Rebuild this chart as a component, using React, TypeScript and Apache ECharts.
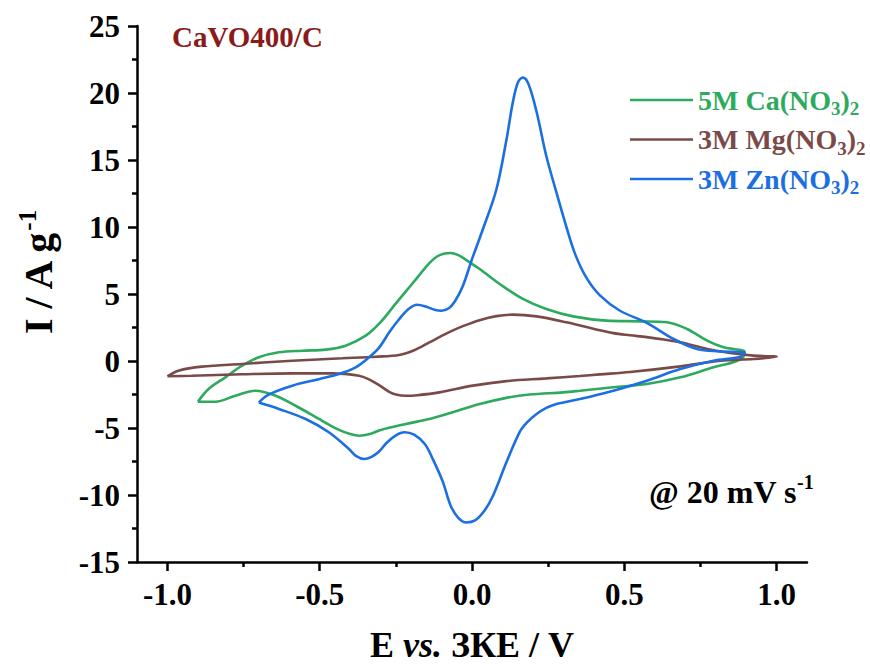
import { useEffect, useRef } from "react";
import * as echarts from "echarts";

// [E (V), I (A/g)] — each cyclic voltammogram as a closed loop
const caLoop: number[][] = [
  [-0.9, -3.04], [-0.865, -2.09], [-0.81, -1.22], [-0.755, -0.35], [-0.7, 0.28], [-0.634, 0.65],
  [-0.557, 0.77], [-0.48, 0.85], [-0.415, 1.14], [-0.349, 1.89], [-0.3, 2.9], [-0.25, 4.3],
  [-0.195, 5.8], [-0.14, 7.3], [-0.115, 7.8], [-0.09, 8.02], [-0.07, 8.06], [-0.045, 7.9],
  [-0.02, 7.55], [0.025, 6.87], [0.091, 5.75], [0.167, 4.63], [0.244, 3.88], [0.332, 3.33],
  [0.442, 3.01], [0.552, 2.96], [0.64, 2.89], [0.706, 2.39], [0.772, 1.52], [0.826, 1.02],
  [0.895, 0.7], [0.895, 0.5], [0.871, 0.02], [0.793, -0.47], [0.684, -1.22], [0.574, -1.72],
  [0.464, -1.96], [0.354, -2.22], [0.299, -2.34], [0.189, -2.5], [0.113, -2.75], [0.025, -3.21],
  [-0.063, -3.83], [-0.14, -4.33], [-0.217, -4.7], [-0.3, -5.15], [-0.335, -5.45], [-0.37, -5.58],
  [-0.4, -5.45], [-0.44, -5.1], [-0.492, -4.46], [-0.579, -3.34], [-0.645, -2.59], [-0.711, -2.22],
  [-0.777, -2.59], [-0.843, -3.04], [-0.9, -3.04],
];

const mgLoop: number[][] = [
  [-1.0, -1.14], [-0.964, -0.72], [-0.887, -0.42], [-0.755, -0.22], [-0.59, 0.02], [-0.426, 0.2],
  [-0.316, 0.32], [-0.239, 0.45], [-0.19, 0.8], [-0.14, 1.39], [-0.08, 2.1], [-0.03, 2.6],
  [0.025, 3.05], [0.08, 3.35], [0.134, 3.46], [0.212, 3.33], [0.31, 2.89], [0.42, 2.3],
  [0.464, 2.08], [0.519, 1.92], [0.574, 1.78], [0.63, 1.6], [0.684, 1.39], [0.772, 0.9],
  [0.848, 0.6], [0.925, 0.4], [1.0, 0.32], [0.925, 0.15], [0.815, 0.02], [0.684, -0.4],
  [0.519, -0.82], [0.42, -1.0], [0.354, -1.12], [0.244, -1.3], [0.113, -1.5], [0.003, -1.84],
  [-0.107, -2.34], [-0.18, -2.55], [-0.217, -2.59], [-0.25, -2.5], [-0.272, -2.3], [-0.305, -1.8],
  [-0.34, -1.35], [-0.371, -1.1], [-0.459, -0.92], [-0.59, -0.92], [-0.755, -0.99], [-0.92, -1.1],
  [-1.0, -1.14],
];

const znLoop: number[][] = [
  [-0.7, -3.1], [-0.668, -2.51], [-0.59, -1.84], [-0.5, -1.34], [-0.437, -0.97], [-0.382, -0.47],
  [-0.338, 0.28], [-0.305, 1.0], [-0.27, 2.2], [-0.24, 3.1], [-0.21, 3.85], [-0.18, 4.2],
  [-0.15, 4.05], [-0.12, 3.8], [-0.1, 3.75], [-0.075, 3.95], [-0.055, 4.5], [-0.03, 5.6],
  [0.0, 7.6], [0.036, 9.85], [0.08, 12.8], [0.113, 16.5], [0.134, 19.3], [0.151, 20.8],
  [0.167, 21.15], [0.185, 20.7], [0.212, 18.6], [0.244, 15.3], [0.277, 12.6], [0.31, 10.0],
  [0.34, 7.9], [0.376, 6.2], [0.42, 4.9], [0.486, 3.75], [0.574, 2.85], [0.662, 1.64],
  [0.739, 0.9], [0.815, 0.72], [0.895, 0.6], [0.88, 0.3], [0.793, 0.02], [0.684, -0.6],
  [0.574, -1.47], [0.464, -2.22], [0.4, -2.6], [0.354, -2.84], [0.3, -3.1], [0.277, -3.21],
  [0.244, -3.5], [0.212, -3.96], [0.18, -4.6], [0.156, -5.32], [0.113, -7.56], [0.069, -10.05],
  [0.04, -11.2], [0.01, -11.9], [-0.019, -12.05], [-0.045, -11.7], [-0.07, -10.8], [-0.096, -9.0],
  [-0.129, -7.3], [-0.155, -6.2], [-0.19, -5.5], [-0.222, -5.32], [-0.25, -5.55], [-0.28, -6.1],
  [-0.305, -6.75], [-0.33, -7.15], [-0.354, -7.31], [-0.38, -7.1], [-0.404, -6.57], [-0.47, -5.32],
  [-0.546, -4.33], [-0.634, -3.58], [-0.7, -3.1],
];

const seriesNames = ["5M Ca(NO3)2", "3M Mg(NO3)2", "3M Zn(NO3)2"];
const seriesColors = ["#2EAA5E", "#7A4A48", "#1C6FE0"];
const xMajorTicks = [-1.0, -0.5, 0.0, 0.5, 1.0];
const xMinorTicks = [-0.75, -0.25, 0.25, 0.75];
const yTicks = [-15, -10, -5, 0, 5, 10, 15, 20, 25];

const FF = '"Liberation Serif", "Times New Roman", serif';
const W = 870;
const H = 666;

export default function App() {
  const ref = useRef<HTMLDivElement>(null);
  useEffect(() => {
    if (!ref.current) return;
    const chart = echarts.init(ref.current, null, { renderer: "svg", width: W, height: H });
    const loops = [caLoop, mgLoop, znLoop];
    const axisColor = "#000";
    const legendRich = (color: string) => ({
      sub: { fontFamily: FF, fontWeight: "bold", fontSize: 19, color, verticalAlign: "bottom", lineHeight: 36 },
    });
    chart.setOption({
      animation: false,
      backgroundColor: "#fff",
      grid: { left: 137, right: 63, top: 26, bottom: 104, containLabel: false, outerBoundsMode: "none" },
      xAxis: [
        {
          type: "value",
          min: -1.1,
          max: 1.1,
          position: "bottom",
          axisLine: { show: true, onZero: false, lineStyle: { color: axisColor, width: 2.5 } },
          axisTick: { show: true, inside: false, length: 9, customValues: xMajorTicks, lineStyle: { color: axisColor, width: 2.5 } },
          axisLabel: {
            show: true,
            customValues: xMajorTicks,
            margin: 17,
            formatter: (v: number) => v.toFixed(1),
            fontFamily: FF,
            fontWeight: "bold",
            fontSize: 31,
            color: "#000",
          },
          splitLine: { show: false },
          name: "E {it|vs.} ЗКЕ / V",
          nameLocation: "middle",
          nameGap: 64,
          nameTextStyle: {
            fontFamily: FF,
            fontWeight: "bold",
            fontSize: 36,
            lineHeight: 38,
            color: "#000",
            rich: { it: { fontFamily: FF, fontWeight: "bold", fontStyle: "italic", fontSize: 36, lineHeight: 38, color: "#000" } },
          },
        },
        {
          type: "value",
          min: -1.1,
          max: 1.1,
          position: "bottom",
          offset: 0,
          axisLine: { show: false, onZero: false },
          axisTick: { show: true, inside: false, length: 5, customValues: xMinorTicks, lineStyle: { color: axisColor, width: 2.5 } },
          axisLabel: { show: false },
          splitLine: { show: false },
        },
      ],
      yAxis: {
        type: "value",
        min: -15,
        max: 25,
        interval: 5,
        axisLine: { show: true, onZero: false, lineStyle: { color: axisColor, width: 2.5 } },
        axisTick: { show: true, inside: false, length: 9, lineStyle: { color: axisColor, width: 2.5 } },
        minorTick: { show: true, splitNumber: 2, length: 5, lineStyle: { color: axisColor, width: 2.5 } },
        axisLabel: {
          margin: 17,
          fontFamily: FF,
          fontWeight: "bold",
          fontSize: 31,
          color: "#000",
          formatter: (v: number) => (yTicks.includes(v) ? String(v) : ""),
        },
        splitLine: { show: false },
        minorSplitLine: { show: false },
      },
      legend: {
        orient: "vertical",
        left: 630,
        top: 82,
        padding: 0,
        icon: "rect",
        itemWidth: 63,
        itemHeight: 2.5,
        itemGap: 3.5,
        data: seriesNames.map((n, i) => ({
          name: n,
          textStyle: {
            color: seriesColors[i],
            fontFamily: FF,
            fontWeight: "bold",
            fontSize: 28,
            lineHeight: 36,
            rich: legendRich(seriesColors[i]),
          },
        })),
        formatter: (name: string) => name.replace("(NO3)2", "(NO{sub|3})") + "{sub|2}",
        textStyle: { fontFamily: FF, fontWeight: "bold", fontSize: 28 },
      },
      graphic: [
        {
          type: "text",
          x: 38,
          y: 273,
          rotation: Math.PI / 2,
          style: {
            text: "I / A g{sup|-1}",
            align: "center",
            verticalAlign: "middle",
            fontFamily: FF,
            fontWeight: "bold",
            fontSize: 40,
            lineHeight: 46,
            fill: "#000",
            rich: { sup: { fontFamily: FF, fontWeight: "bold", fontSize: 25, fill: "#000", verticalAlign: "top", lineHeight: 46 } },
          },
        },
        {
          type: "text",
          left: 172,
          top: 22,
          style: { text: "CaVO400/C", fontFamily: FF, fontWeight: "bold", fontSize: 29, fill: "#8B1A1A" },
        },
        {
          type: "text",
          left: 649,
          top: 472,
          style: {
            text: "@ 20 mV s{sup|-1}",
            fontFamily: FF,
            fontWeight: "bold",
            fontSize: 32,
            lineHeight: 40,
            fill: "#000",
            rich: { sup: { fontFamily: FF, fontWeight: "bold", fontSize: 20, fill: "#000", verticalAlign: "top", lineHeight: 40 } },
          },
        },
      ],
      series: loops.map((d, i) => ({
        type: "line",
        name: seriesNames[i],
        data: d,
        xAxisIndex: 0,
        yAxisIndex: 0,
        showSymbol: false,
        symbol: "none",
        smooth: 0.35,
        lineStyle: { color: seriesColors[i], width: 2.6 },
        itemStyle: { color: seriesColors[i] },
        z: 2 + i,
      })),
    });
    return () => chart.dispose();
  }, []);
  return (
    <div
      ref={ref}
      style={{ position: "fixed", left: 0, top: 0, width: W, height: H, background: "#fff" }}
    />
  );
}
